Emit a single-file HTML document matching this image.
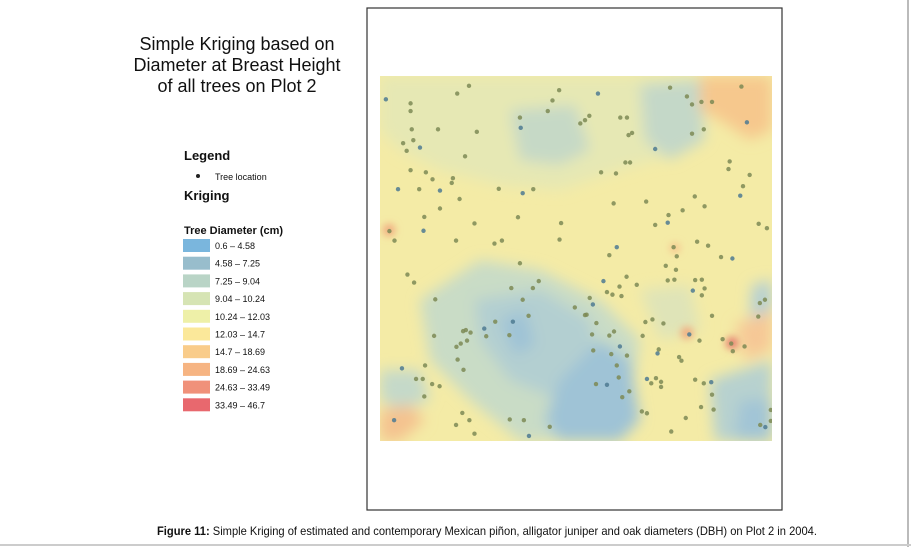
<!DOCTYPE html>
<html><head><meta charset="utf-8"><style>
html,body{margin:0;padding:0;background:#fff;}
svg{display:block;font-family:"Liberation Sans",Arial,sans-serif;}
</style></head><body>
<svg width="911" height="547" viewBox="0 0 911 547">
<defs>
<filter id="bl" x="-30%" y="-30%" width="160%" height="160%"><feGaussianBlur stdDeviation="7"/></filter>
<filter id="bl2" x="-30%" y="-30%" width="160%" height="160%"><feGaussianBlur stdDeviation="4"/></filter>
<clipPath id="pc"><rect x="380" y="76" width="392" height="365"/></clipPath>
</defs>
<line x1="908" y1="0" x2="908" y2="547" stroke="#bbb" stroke-width="2"/>
<line x1="0" y1="545" x2="911" y2="545" stroke="#ccc" stroke-width="2"/>
<g font-size="18" text-anchor="middle" fill="#111">
<text x="237" y="50">Simple Kriging based on</text>
<text x="237" y="71">Diameter at Breast Height</text>
<text x="237" y="92">of all trees on Plot 2</text>
</g>
<g fill="#111">
<text x="184" y="160" font-size="13" font-weight="bold">Legend</text>
<circle cx="198" cy="176" r="2" fill="#222"/>
<text x="215" y="180" font-size="9">Tree location</text>
<text x="184" y="200" font-size="13" font-weight="bold">Kriging</text>
<text x="184" y="234" font-size="11" font-weight="bold">Tree Diameter (cm)</text>
<g id="legrows"></g>
</g>
<rect x="367" y="8" width="415" height="502" fill="none" stroke="#333" stroke-width="1.2"/>
<g clip-path="url(#pc)">
<rect x="380" y="76" width="392" height="365" fill="#f4eba6"/>
<g filter="url(#bl)">
<path d="M380 76 H700 L690 150 L620 170 L560 190 L500 185 L440 170 L400 150 L380 130Z" fill="#e6e8b4"/>
<path d="M510 110 L575 105 L590 150 L560 165 L520 160Z" fill="#c6d9c6"/>
<path d="M640 85 L700 80 L705 140 L670 160 L645 140Z" fill="#c4d8c8"/>
<path d="M700 76 H772 V130 L750 140 L720 120 L700 110Z" fill="#f6c88d"/>
<path d="M420 300 L480 260 L540 270 L600 300 L640 340 L630 400 L600 441 L520 441 L470 400 L430 360Z" fill="#c9dcc6"/>
<path d="M475 300 L540 290 L590 320 L600 370 L560 400 L510 380 L480 340Z" fill="#b3cfd1"/>
<path d="M560 380 L600 340 L630 360 L640 420 L620 441 L560 441 L545 420Z" fill="#9fc3d6"/>
<path d="M500 320 L525 310 L535 345 L515 355Z" fill="#9fc3d6"/>
<path d="M710 380 L772 360 V441 H715Z" fill="#b7d1cf"/>
<path d="M740 400 L772 400 V441 H735Z" fill="#a2c5d6"/>
<path d="M380 370 L420 370 L430 400 L400 410 L380 400Z" fill="#c5d9c9"/>
<path d="M380 410 L410 405 L425 420 L400 441 H380Z" fill="#f4c28f"/>
<path d="M752 285 L772 280 V335 L750 320Z" fill="#b6d0d3"/>
<path d="M735 325 L772 310 V350 L745 360Z" fill="#f6c896"/>
<path d="M640 290 L690 285 L700 330 L660 340Z" fill="#dfe4b8"/>
</g>
<g filter="url(#bl2)">
<circle cx="389" cy="230" r="6" fill="#f1a47c"/>
<circle cx="687" cy="333" r="6" fill="#f1a47c"/>
<circle cx="732" cy="343" r="6" fill="#e5726a"/>
<circle cx="675" cy="248" r="5" fill="#f6c08c"/>
</g>
<g id="pts"></g>
</g>
<text x="157" y="535" font-size="12" textLength="660" lengthAdjust="spacingAndGlyphs" fill="#111"><tspan font-weight="bold">Figure 11:</tspan> Simple Kriging of estimated and contemporary Mexican piñon, alligator juniper and oak diameters (DBH) on Plot 2 in 2004.</text>
</svg>
<script>
const classLabels=["0.6 – 4.58","4.58 – 7.25","7.25 – 9.04","9.04 – 10.24","10.24 – 12.03","12.03 – 14.7","14.7 – 18.69","18.69 – 24.63","24.63 – 33.49","33.49 – 46.7"];
const classColors=["#7ab6dd","#98bdcc","#b9d4c6","#d6e4b4","#eef0a8","#fbe89a","#f9cc8a","#f6b482","#f0917a","#e8686e"];
// tree positions in plot units (0-100 x, 0-100 y from top)
const treeX=[1.5,7.8,7.8,8.1,14.8,8.5,6.8,10.2,5.9,21.7,24.7,22.7,19.7,35.7,35.9,44.0,45.7,42.8,51.1,52.3,53.4,55.6,61.3,63.0,63.4,64.3,62.6,63.8,70.2,74.0,78.3,79.6,82.0,84.7,92.2,93.6,79.6,82.6,89.2,88.9,94.3,92.6,91.9,96.6,98.7,80.3,82.8,77.2,73.6,73.4,70.2,67.9,59.6,56.4,60.2,46.2,36.4,39.1,30.3,35.2,24.1,20.3,15.3,15.3,11.3,13.4,18.3,18.6,7.8,11.7,4.6,10.0,2.4,19.4,29.2,31.1,45.8,60.4,58.5,74.9,75.7,80.9,83.7,87.0,89.9,72.9,75.5,73.4,75.1,80.4,82.1,79.8,82.8,82.1,96.9,98.2,96.5,84.7,78.9,81.5,87.4,89.6,93.0,90.0,71.1,70.8,76.3,76.9,72.3,67.7,69.5,67.0,68.1,70.4,69.2,71.7,71.7,80.4,82.6,84.5,84.7,81.9,85.1,99.7,99.7,97.0,98.3,78.0,74.3,68.1,66.8,61.8,63.6,57.9,55.1,60.9,60.4,59.0,63.0,54.4,61.2,58.5,59.7,54.1,55.2,49.7,52.7,54.3,57.9,59.3,61.6,61.1,62.9,65.5,57.0,53.5,52.3,39.0,37.9,29.4,21.9,26.6,23.1,20.6,36.4,35.7,33.5,40.5,33.9,33.0,27.1,22.2,21.2,13.8,19.5,5.6,9.2,21.3,19.8,11.5,15.2,11.3,11.1,3.7,7.0,8.7,14.1,10.9,13.3,3.6,19.4,24.1,21.0,22.8,33.1,36.7,38.0,43.3,42.4,39.7];
const treeY=[6.4,7.5,9.6,14.6,14.6,17.6,20.5,19.6,18.4,22.0,15.3,2.7,4.8,11.4,14.2,6.7,3.9,9.6,13.0,12.1,10.9,4.8,11.4,11.4,16.2,15.6,23.7,23.7,20.0,3.2,5.6,7.8,7.1,7.1,2.9,12.7,15.8,14.6,23.4,25.5,27.1,30.2,32.8,40.5,41.7,33.0,35.7,36.8,38.1,40.2,40.8,34.4,34.9,26.4,26.7,40.3,32.1,31.0,30.9,38.7,40.4,33.7,36.3,31.4,38.6,28.3,29.3,28.0,25.8,26.4,31.0,31.0,42.5,45.1,45.9,45.1,44.8,46.9,49.1,46.9,49.4,45.4,46.5,49.6,50.0,52.0,53.1,56.0,55.8,55.9,55.8,58.8,58.2,60.1,62.2,61.3,65.9,65.7,70.8,72.5,72.1,73.3,74.1,75.4,74.9,76.0,77.0,78.0,67.8,67.4,66.7,71.2,83.0,82.8,84.2,83.8,85.2,83.2,84.2,83.9,87.3,90.7,91.4,91.5,94.5,95.6,96.2,93.7,97.4,92.4,91.9,88.0,86.4,84.6,84.4,82.6,79.3,76.2,76.6,75.2,74.1,71.1,70.0,70.8,67.7,63.4,65.4,62.6,59.2,59.9,60.3,57.7,55.0,57.2,56.2,60.8,65.5,58.1,65.7,67.3,69.6,69.2,70.3,73.3,61.3,51.3,58.1,56.2,67.3,71.0,71.3,72.5,69.9,71.2,74.2,80.1,83.0,80.5,77.7,79.3,85.0,87.8,42.4,45.1,54.4,56.6,61.2,83.0,84.4,94.3,95.6,98.0,92.3,94.3,94.1,94.3,98.6,96.1];
const legG=document.getElementById('legrows');
classLabels.forEach((lab,i)=>{
  const y=239+i*17.7;
  const r=document.createElementNS('http://www.w3.org/2000/svg','rect');
  r.setAttribute('x',183);r.setAttribute('y',y);r.setAttribute('width',27);r.setAttribute('height',13);
  r.setAttribute('fill',classColors[i]);
  
  
  legG.appendChild(r);
  const t=document.createElementNS('http://www.w3.org/2000/svg','text');
  t.setAttribute('x',215);t.setAttribute('y',y+10);t.setAttribute('font-size','9');
  t.textContent=lab;
  
  
  legG.appendChild(t);
});
const px=v=>380+v/100*392, py=v=>76+v/100*365;
const pg=document.getElementById('pts');
treeX.forEach((x,i)=>{
  const c=document.createElementNS('http://www.w3.org/2000/svg','circle');
  c.setAttribute('cx',px(x));c.setAttribute('cy',py(treeY[i]));c.setAttribute('r',2.2);
  c.setAttribute('fill',i%7===0?'#4d7a92':'#7c8a55');c.setAttribute('fill-opacity','0.85');
  
  
  pg.appendChild(c);
});
</script>
</body></html>
